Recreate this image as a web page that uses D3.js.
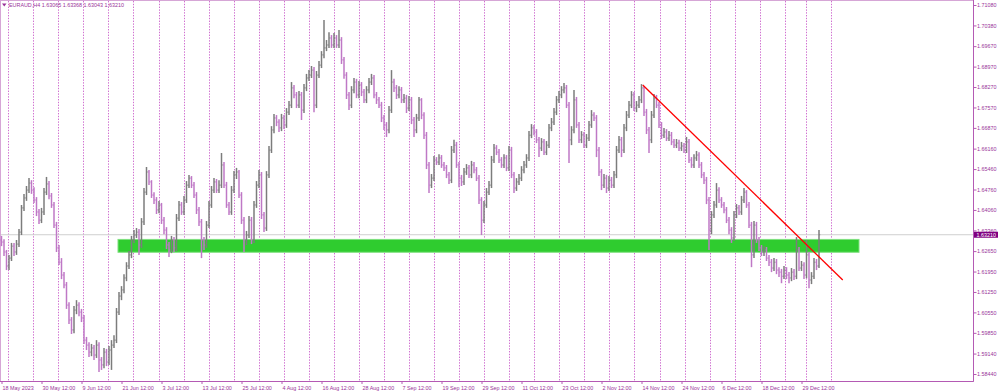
<!DOCTYPE html>
<meta charset="utf-8">
<style>
body { margin: 0; background: #fff; }
svg { display: block; background: #fff; }
text { font-family: "Liberation Sans", Arial, sans-serif; font-size: 5.4px; fill: #993399; }
.sep line { stroke: #d070d0; stroke-width: 1; stroke-dasharray: 1.4,1.4; }
.axis path, .axis line { stroke: #b45ab4; }
.bars path { fill: none; }
</style>
<svg width="1000" height="392"></svg>
<script src="https://d3js.org/d3.v7.min.js"></script>
<script>

var symbolName = "EURAUD,H4";
var lastBar = ["1.63065", "1.63368", "1.63043", "1.63210"];
var firstOpen = 1.6303;

// 12h bars, 18 May 2023 -> early Jan 2024
var closes = [
  1.6296,1.6262,1.6214,1.6241,1.6282,1.6262,1.6289,1.6330,1.6413,1.6447,
  1.6474,1.6498,1.6474,1.6440,1.6399,1.6371,1.6399,1.6467,1.6495,1.6454,
  1.6423,1.6354,1.6276,1.6227,1.6183,1.6149,1.6080,1.6029,1.5995,1.6063,
  1.6080,1.6056,1.6036,1.5960,1.5943,1.5919,1.5933,1.5909,1.5943,1.5892,
  1.5875,1.5919,1.5885,1.5926,1.5943,1.5960,1.6056,1.6111,1.6132,1.6173,
  1.6214,1.6252,1.6303,1.6320,1.6330,1.6286,1.6365,1.6467,1.6536,1.6502,
  1.6457,1.6440,1.6406,1.6423,1.6371,1.6337,1.6286,1.6269,1.6303,1.6276,
  1.6378,1.6423,1.6399,1.6440,1.6491,1.6515,1.6491,1.6457,1.6406,1.6365,
  1.6303,1.6286,1.6354,1.6423,1.6474,1.6502,1.6474,1.6491,1.6560,1.6491,
  1.6423,1.6399,1.6474,1.6526,1.6536,1.6457,1.6371,1.6303,1.6320,1.6371,
  1.6303,1.6423,1.6491,1.6526,1.6389,1.6344,1.6526,1.6611,1.6680,1.6721,
  1.6707,1.6687,1.6721,1.6697,1.6741,1.6765,1.6824,1.6800,1.6765,1.6800,
  1.6748,1.6824,1.6858,1.6868,1.6885,1.6765,1.6868,1.6902,1.6937,1.6961,
  1.6971,1.6995,1.6971,1.6995,1.6971,1.6988,1.6920,1.6868,1.6800,1.6765,
  1.6817,1.6844,1.6800,1.6834,1.6810,1.6783,1.6817,1.6844,1.6858,1.6800,
  1.6783,1.6765,1.6721,1.6697,1.6680,1.6748,1.6844,1.6824,1.6800,1.6817,
  1.6783,1.6789,1.6755,1.6783,1.6714,1.6680,1.6721,1.6783,1.6731,1.6662,
  1.6560,1.6491,1.6515,1.6577,1.6570,1.6584,1.6560,1.6550,1.6526,1.6508,
  1.6611,1.6628,1.6560,1.6515,1.6502,1.6536,1.6550,1.6526,1.6560,1.6543,
  1.6515,1.6440,1.6371,1.6423,1.6467,1.6491,1.6577,1.6618,1.6604,1.6577,
  1.6560,1.6584,1.6550,1.6611,1.6526,1.6481,1.6502,1.6515,1.6543,1.6560,
  1.6584,1.6662,1.6687,1.6673,1.6646,1.6618,1.6639,1.6604,1.6628,1.6687,
  1.6707,1.6741,1.6783,1.6800,1.6817,1.6824,1.6765,1.6646,1.6680,1.6783,
  1.6697,1.6646,1.6663,1.6628,1.6652,1.6697,1.6731,1.6721,1.6611,1.6536,
  1.6491,1.6515,1.6481,1.6508,1.6491,1.6526,1.6611,1.6646,1.6611,1.6687,
  1.6731,1.6765,1.6800,1.6755,1.6765,1.6783,1.6824,1.6741,1.6680,1.6646,
  1.6731,1.6789,1.6765,1.6697,1.6662,1.6673,1.6652,1.6662,1.6639,1.6628,
  1.6635,1.6618,1.6625,1.6611,1.6639,1.6577,1.6560,1.6584,1.6594,1.6560,
  1.6526,1.6508,1.6440,1.6337,1.6389,1.6423,1.6474,1.6440,1.6423,1.6406,
  1.6371,1.6337,1.6310,1.6389,1.6413,1.6399,1.6440,1.6467,1.6423,1.6354,
  1.6252,1.6354,1.6303,1.6276,1.6262,1.6269,1.6241,1.6227,1.6207,1.6227,
  1.6200,1.6193,1.6179,1.6200,1.6183,1.6173,1.6193,1.6179,1.6269,1.6207,
  1.6217,1.6183,1.6252,1.6166,1.6179,1.6227,1.6214,1.6321
];

var highs = [
  1.6317,1.6306,1.6269,1.6252,1.6293,1.6293,1.6303,1.6341,1.6423,1.6461,
  1.6488,1.6515,1.6508,1.6484,1.6450,1.6409,1.6413,1.6481,1.6519,1.6505,
  1.6464,1.6433,1.6365,1.6286,1.6241,1.6193,1.6159,1.6090,1.6039,1.6077,
  1.6097,1.6090,1.6067,1.6046,1.5971,1.5953,1.5947,1.5943,1.5960,1.5953,
  1.5902,1.5933,1.5930,1.5940,1.5960,1.5977,1.6070,1.6125,1.6145,1.6186,
  1.6227,1.6265,1.6317,1.6337,1.6344,1.6341,1.6378,1.6481,1.6553,1.6543,
  1.6508,1.6467,1.6450,1.6437,1.6430,1.6382,1.6347,1.6296,1.6317,1.6313,
  1.6392,1.6437,1.6433,1.6454,1.6505,1.6526,1.6522,1.6502,1.6467,1.6416,
  1.6375,1.6313,1.6368,1.6437,1.6488,1.6515,1.6512,1.6508,1.6601,1.6570,
  1.6502,1.6433,1.6488,1.6539,1.6550,1.6543,1.6467,1.6382,1.6334,1.6385,
  1.6382,1.6437,1.6505,1.6543,1.6536,1.6399,1.6539,1.6625,1.6693,1.6735,
  1.6731,1.6717,1.6735,1.6731,1.6755,1.6779,1.6844,1.6834,1.6810,1.6813,
  1.6810,1.6837,1.6872,1.6885,1.6899,1.6896,1.6882,1.6916,1.6950,1.7057,
  1.6988,1.7015,1.7005,1.7012,1.7005,1.7022,1.6998,1.6930,1.6878,1.6810,
  1.6830,1.6858,1.6855,1.6848,1.6844,1.6820,1.6830,1.6858,1.6872,1.6868,
  1.6810,1.6793,1.6776,1.6731,1.6707,1.6762,1.6885,1.6855,1.6834,1.6830,
  1.6827,1.6803,1.6800,1.6796,1.6793,1.6724,1.6735,1.6793,1.6789,1.6741,
  1.6673,1.6570,1.6529,1.6591,1.6587,1.6597,1.6594,1.6570,1.6560,1.6536,
  1.6625,1.6646,1.6639,1.6570,1.6526,1.6550,1.6563,1.6560,1.6574,1.6570,
  1.6553,1.6526,1.6450,1.6437,1.6481,1.6505,1.6591,1.6632,1.6628,1.6615,
  1.6587,1.6597,1.6594,1.6625,1.6622,1.6536,1.6515,1.6529,1.6556,1.6574,
  1.6597,1.6676,1.6700,1.6697,1.6683,1.6656,1.6652,1.6649,1.6642,1.6700,
  1.6721,1.6755,1.6796,1.6813,1.6830,1.6841,1.6834,1.6776,1.6693,1.6817,
  1.6793,1.6707,1.6676,1.6673,1.6666,1.6711,1.6748,1.6741,1.6731,1.6622,
  1.6546,1.6529,1.6526,1.6522,1.6519,1.6539,1.6625,1.6659,1.6656,1.6700,
  1.6745,1.6779,1.6813,1.6810,1.6779,1.6796,1.6837,1.6830,1.6752,1.6690,
  1.6745,1.6803,1.6800,1.6776,1.6707,1.6687,1.6683,1.6676,1.6673,1.6649,
  1.6649,1.6646,1.6639,1.6635,1.6656,1.6649,1.6587,1.6597,1.6608,1.6604,
  1.6570,1.6536,1.6519,1.6450,1.6402,1.6437,1.6498,1.6484,1.6450,1.6433,
  1.6416,1.6382,1.6347,1.6402,1.6426,1.6423,1.6454,1.6481,1.6474,1.6433,
  1.6365,1.6368,1.6365,1.6313,1.6286,1.6282,1.6279,1.6252,1.6238,1.6241,
  1.6238,1.6210,1.6204,1.6214,1.6210,1.6193,1.6207,1.6204,1.6313,1.6279,
  1.6231,1.6227,1.6303,1.6262,1.6193,1.6241,1.6238,1.6337
];

var lows = [
  1.6282,1.6248,1.6200,1.6200,1.6231,1.6248,1.6252,1.6279,1.6320,1.6402,
  1.6437,1.6464,1.6461,1.6430,1.6385,1.6358,1.6361,1.6389,1.6457,1.6443,
  1.6413,1.6344,1.6262,1.6217,1.6169,1.6138,1.6067,1.6015,1.5981,1.5984,
  1.6049,1.6042,1.6022,1.5947,1.5926,1.5902,1.5905,1.5892,1.5899,1.5851,
  1.5858,1.5864,1.5871,1.5875,1.5858,1.5933,1.5950,1.6046,1.6097,1.6121,
  1.6162,1.6204,1.6241,1.6293,1.6310,1.6252,1.6276,1.6354,1.6457,1.6491,
  1.6447,1.6426,1.6392,1.6395,1.6358,1.6323,1.6272,1.6245,1.6258,1.6262,
  1.6265,1.6368,1.6389,1.6389,1.6430,1.6481,1.6481,1.6447,1.6392,1.6351,
  1.6241,1.6269,1.6276,1.6344,1.6413,1.6464,1.6464,1.6464,1.6481,1.6481,
  1.6413,1.6389,1.6389,1.6464,1.6512,1.6447,1.6358,1.6262,1.6286,1.6310,
  1.6289,1.6293,1.6413,1.6481,1.6375,1.6330,1.6334,1.6515,1.6601,1.6669,
  1.6693,1.6673,1.6676,1.6683,1.6687,1.6731,1.6755,1.6789,1.6755,1.6755,
  1.6714,1.6738,1.6813,1.6848,1.6858,1.6741,1.6755,1.6858,1.6892,1.6926,
  1.6950,1.6961,1.6961,1.6961,1.6961,1.6961,1.6906,1.6855,1.6786,1.6748,
  1.6755,1.6806,1.6789,1.6789,1.6796,1.6772,1.6772,1.6806,1.6834,1.6789,
  1.6769,1.6755,1.6707,1.6680,1.6656,1.6669,1.6738,1.6810,1.6786,1.6789,
  1.6772,1.6772,1.6738,1.6745,1.6700,1.6656,1.6669,1.6711,1.6717,1.6649,
  1.6546,1.6464,1.6481,1.6505,1.6560,1.6560,1.6550,1.6539,1.6515,1.6495,
  1.6498,1.6601,1.6550,1.6484,1.6488,1.6491,1.6526,1.6515,1.6515,1.6532,
  1.6505,1.6426,1.6320,1.6361,1.6413,1.6457,1.6481,1.6567,1.6594,1.6567,
  1.6550,1.6550,1.6539,1.6539,1.6515,1.6464,1.6471,1.6491,1.6505,1.6532,
  1.6550,1.6574,1.6652,1.6662,1.6635,1.6587,1.6608,1.6594,1.6594,1.6618,
  1.6676,1.6697,1.6731,1.6772,1.6789,1.6806,1.6755,1.6567,1.6628,1.6669,
  1.6687,1.6635,1.6635,1.6618,1.6618,1.6642,1.6687,1.6711,1.6587,1.6522,
  1.6474,1.6481,1.6464,1.6471,1.6481,1.6481,1.6515,1.6601,1.6587,1.6601,
  1.6676,1.6721,1.6755,1.6745,1.6741,1.6755,1.6772,1.6728,1.6666,1.6601,
  1.6635,1.6721,1.6755,1.6687,1.6649,1.6652,1.6642,1.6642,1.6628,1.6618,
  1.6618,1.6608,1.6608,1.6601,1.6601,1.6567,1.6550,1.6550,1.6574,1.6550,
  1.6515,1.6495,1.6426,1.6269,1.6323,1.6378,1.6413,1.6430,1.6413,1.6395,
  1.6361,1.6323,1.6293,1.6300,1.6378,1.6389,1.6389,1.6430,1.6413,1.6344,
  1.6210,1.6241,1.6293,1.6265,1.6248,1.6248,1.6231,1.6214,1.6193,1.6197,
  1.6186,1.6176,1.6155,1.6169,1.6169,1.6155,1.6162,1.6166,1.6169,1.6197,
  1.6197,1.6169,1.6172,1.6138,1.6152,1.6169,1.6200,1.6207
];

var priceTicks = [1.71080, 1.70380, 1.69670, 1.68970, 1.68270, 1.67570, 1.66870, 1.66160, 1.65460, 1.64760,
  1.64060, 1.63360, 1.62650, 1.61950, 1.61250, 1.60550, 1.59850, 1.59140, 1.58440];

var dateLabels = ["18 May 2023", "30 May 12:00", "9 Jun 12:00", "21 Jun 12:00", "3 Jul 12:00", "13 Jul 12:00",
  "25 Jul 12:00", "4 Aug 12:00", "16 Aug 12:00", "28 Aug 12:00", "7 Sep 12:00", "19 Sep 12:00", "29 Sep 12:00",
  "11 Oct 12:00", "23 Oct 12:00", "2 Nov 12:00", "14 Nov 12:00", "24 Nov 12:00", "6 Dec 12:00", "18 Dec 12:00",
  "29 Dec 12:00"];
var barsPerLabel = 16;

// support zone and falling trend line (bar index / price)
var zoneBars = [46.6, 343];
var zonePrices = [1.6305, 1.6261];
var trendBars = [256.5, 336.5];
var trendPrices = [1.6834, 1.6166];

var svg = d3.select("svg"),
  width = +svg.attr("width"),
  height = +svg.attr("height");

var plotRight = 973.5, plotBottom = 381.5;

var x = d3.scaleLinear().domain([0, 327]).range([1.5, 819]);
var y = d3.scaleLinear().domain([1.5844, 1.7108]).range([374, 5]);

// frame
svg.append("rect")
  .attr("x", 0.5).attr("y", 0.5)
  .attr("width", plotRight - 0.5).attr("height", plotBottom - 0.5)
  .attr("fill", "none").attr("stroke", "#d6a6d6");

// weekly separators
var weekStarts = d3.range(32).map(function(k) { return 2.7 + 10.02 * k; }).concat([321.8, 331.8]);
svg.append("g").attr("class", "sep")
  .selectAll("line").data(weekStarts)
  .enter().append("line")
  .attr("x1", function(d) { return Math.round(x(d)) + 0.5; })
  .attr("x2", function(d) { return Math.round(x(d)) + 0.5; })
  .attr("y1", 1).attr("y2", plotBottom);

// current price line
var lastPrice = closes[closes.length - 1];
svg.append("line")
  .attr("x1", 1).attr("x2", plotRight)
  .attr("y1", y(lastPrice)).attr("y2", y(lastPrice))
  .attr("stroke", "#cfcfcf").attr("stroke-width", 1);

// zone
svg.append("rect")
  .attr("x", x(zoneBars[0]))
  .attr("y", y(zonePrices[0]))
  .attr("width", x(zoneBars[1]) - x(zoneBars[0]))
  .attr("height", y(zonePrices[1]) - y(zonePrices[0]))
  .attr("fill", "#2fcc2f")
  .attr("stroke", "#7fe07f").attr("stroke-width", 1);

// bars
var bars = closes.map(function(c, i) {
  return { i: i, o: i == 0 ? firstOpen : closes[i - 1], h: highs[i], l: lows[i], c: c };
});

var barG = svg.append("g").attr("class", "bars")
  .selectAll("g").data(bars)
  .enter().append("g")
  .attr("stroke", function(d) { return d.c >= d.o ? "#7c7c7c" : "#bf78c6"; });

barG.append("path")
  .attr("stroke-width", 1.5)
  .attr("d", function(d) { return "M" + x(d.i) + "," + y(d.h) + "V" + y(d.l); });

barG.append("path")
  .attr("stroke-width", 1)
  .attr("stroke-opacity", 0.7)
  .attr("d", function(d) {
    var cx = x(d.i);
    return "M" + (cx - 1.3) + "," + y(d.o) + "H" + cx +
      "M" + cx + "," + y(d.c) + "H" + (cx + 1.3);
  });

// trend line
svg.append("line")
  .attr("x1", x(trendBars[0])).attr("y1", y(trendPrices[0]))
  .attr("x2", x(trendBars[1])).attr("y2", y(trendPrices[1]))
  .attr("stroke", "#ff0000").attr("stroke-width", 1.3);

// price axis
var yAxis = d3.axisRight(y)
  .tickValues(priceTicks)
  .tickFormat(d3.format(".5f"))
  .tickSize(3).tickPadding(0.5);

svg.append("g").attr("class", "axis")
  .attr("transform", "translate(" + plotRight + ",0)")
  .call(yAxis)
  .call(function(g) { g.select(".domain").attr("d", "M0,0V" + plotBottom); })
  .selectAll("text").attr("font-size", null).attr("font-family", null).attr("fill", null);

// date axis
var xAxis = d3.axisBottom(x)
  .tickValues(dateLabels.map(function(d, k) { return k * barsPerLabel; }))
  .tickFormat(function(d, k) { return dateLabels[k]; })
  .tickSize(2.5).tickPadding(2);

svg.append("g").attr("class", "axis")
  .attr("transform", "translate(0," + plotBottom + ")")
  .call(xAxis)
  .call(function(g) { g.select(".domain").attr("d", "M0,0H" + plotRight); })
  .selectAll("text")
  .attr("font-size", null).attr("font-family", null).attr("fill", null)
  .attr("text-anchor", "start").attr("dx", "0.5");

// last price tag
svg.append("rect")
  .attr("x", plotRight + 0.5).attr("y", y(lastPrice) - 3)
  .attr("width", 24).attr("height", 6)
  .attr("fill", "#800080");
svg.append("text")
  .attr("x", plotRight + 3).attr("y", y(lastPrice) + 2)
  .style("fill", "#fff")
  .text(lastBar[3]);

// header
svg.append("path")
  .attr("d", "M2,3.5H6.5L4.25,6.5Z")
  .attr("fill", "#993399");
svg.append("text")
  .attr("x", 9).attr("y", 7.4)
  .text(symbolName + "  " + lastBar.join(" "));

</script>
